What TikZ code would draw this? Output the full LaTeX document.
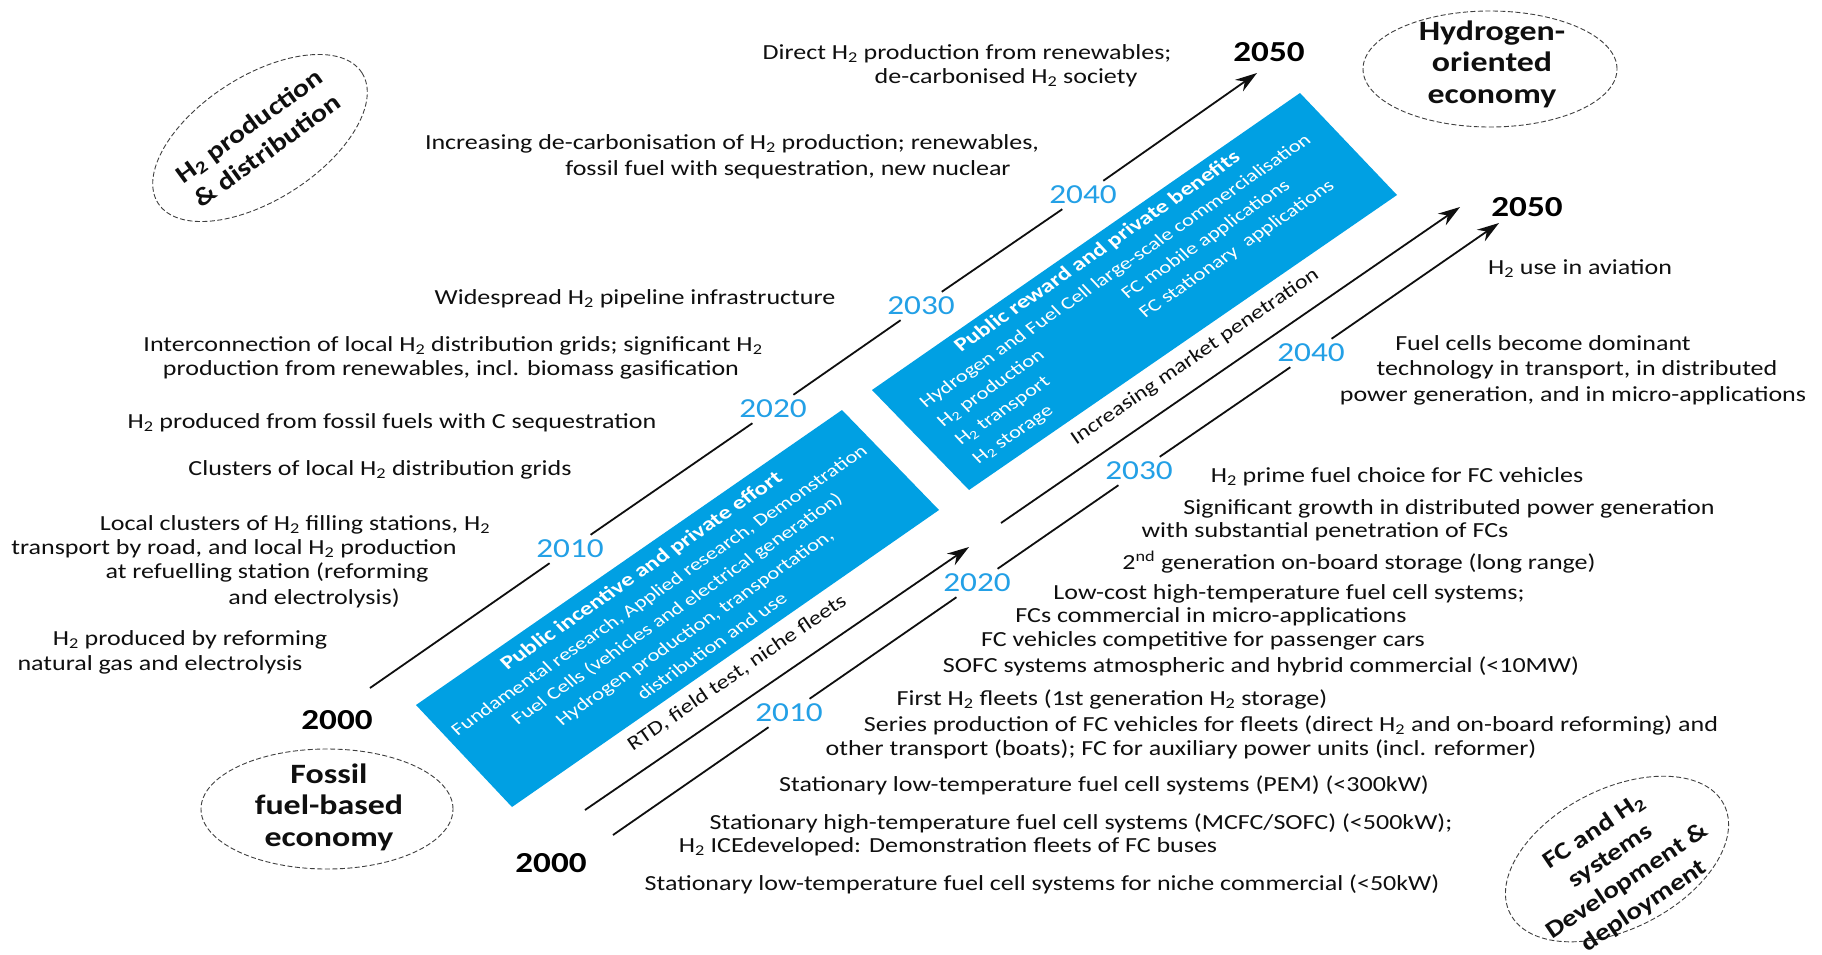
\documentclass[tikz,border=0pt]{standalone}
\usepackage{fontspec}
\setmainfont[FakeStretch=1.21]{Carlito}
\usetikzlibrary{arrows.meta,shapes.geometric}
\definecolor{boxblue}{RGB}{0,160,227}
\definecolor{yearblue}{RGB}{35,160,230}
\definecolor{ink}{RGB}{15,15,15}
\newlength\colA
\newcommand\boxhead[1]{{\bfseries\fontsize{19.8}{25.5}\selectfont #1}}
\begin{document}
\begin{tikzpicture}[x=1pt,y=-1pt,
  txt/.style={font=\fontsize{21.5}{24}\selectfont,text=ink,inner sep=0pt,anchor=mid},
  yr/.style={font=\fontsize{27.5}{30}\selectfont,text=yearblue,inner sep=5pt},
  yrb/.style={font=\bfseries\fontsize{29}{30}\selectfont,text=black,inner sep=0pt},
  arr/.style={draw=ink,line width=1.8pt,-{Stealth[length=22pt,width=14pt]}},
  ellshape/.style={draw=ink!80,ellipse,line width=0.9pt,dash pattern=on 5pt off 2.5pt,inner sep=0pt},
  elltxt/.style={font=\bfseries\fontsize{28}{31.5}\selectfont,align=center,text=ink,inner sep=0pt},
  boxtxt/.style={font=\fontsize{18}{25.5}\selectfont,text=white,align=center,inner sep=0pt,rotate=34.6,xslant=-0.15,transform shape},
  alabel/.style={font=\fontsize{20}{23}\selectfont,text=ink,inner sep=0pt,rotate=34.6}
]
\useasboundingbox[fill=white] (0,0) rectangle (1822,954);

% blue boxes
\fill[boxblue] (416,705) -- (842,410) -- (939,510) -- (512,807) -- cycle;
\fill[boxblue] (872,390) -- (1300,93) -- (1397,195) -- (969,490) -- cycle;

\node[boxtxt] (box1) at (676,608) {\boxhead{Public incentive and private effort}\\
Fundamental research, Applied research, Demonstration\\
Fuel Cells (vehicles and electrical generation)\\
Hydrogen production, transportation,\\
distribution and use};

\node[boxtxt] (box2) at (1133,290) {\settowidth\colA{Hydrogen and Fuel Cell la}%
\begin{tabular}{@{}l@{}l@{}}
\multicolumn{2}{@{}c@{}}{\boxhead{Public reward and private benefits}}\\
\multicolumn{2}{@{}l@{}}{Hydrogen and Fuel Cell large-scale commercialisation}\\
\makebox[\colA][l]{H\textsubscript{2} production} & FC mobile applications\\
\makebox[\colA][l]{H\textsubscript{2} transport} & FC stationary\ \ applications\\
\makebox[\colA][l]{H\textsubscript{2} storage} & \\
\end{tabular}};

% ellipses
\node[ellshape,minimum width=242pt,minimum height=124pt,rotate=32.6] (h2ell) at (260,138) {};
\node[elltxt,font=\bfseries\fontsize{25}{31}\selectfont,rotate=36] (h2lab) at (258,138) {H\textsubscript{2} production\\\& distribution};
\node[ellshape,minimum width=254pt,minimum height=116pt] (hoell) at (1490,69) {};
\node[elltxt] (holab) at (1492,64) {Hydrogen-\\oriented\\economy};
\node[ellshape,minimum width=252pt,minimum height=120pt] (ffell) at (327,809) {};
\node[elltxt] (fflab) at (329,807) {Fossil\\fuel-based\\economy};
\node[ellshape,minimum width=240pt,minimum height=140pt,rotate=27] (fcell) at (1617,859) {};
\node[elltxt,font=\bfseries\fontsize{24}{30}\selectfont,rotate=34] (fclab) at (1619,869) {FC and H\textsubscript{2}\\systems\\Development \&\\deployment};

% top arrow (H2 production & distribution)
\coordinate (ta0) at (370,688);
\coordinate (ta1) at (1257,73);
\node[yr] (ty10) at (570,549) {2010};
\node[yr] (ty20) at (773,409) {2020};
\node[yr] (ty30) at (921,306) {2030};
\node[yr] (ty40) at (1083,195) {2040};
\draw[arr] (ta0) -- (ty10) -- (ty20) -- (ty30) -- (ty40) -- (ta1);

% middle arrows
\coordinate (aa0) at (585,810);
\coordinate (aa1) at (969,547);
\draw[arr] (aa0) -- (aa1);
\coordinate (ab0) at (1001,523);
\coordinate (ab1) at (1460,207);
\draw[arr] (ab0) -- (ab1);
\node[alabel] (rtd) at (737,673) {RTD, field test, niche fleets};
\node[alabel] (imp) at (1195,357) {Increasing market penetration};

% lower arrow (FC systems)
\coordinate (ca0) at (613,835);
\coordinate (ca1) at (1499,223);
\node[yr] (cy10) at (789,713) {2010};
\node[yr] (cy20) at (977,583) {2020};
\node[yr] (cy30) at (1139,471) {2030};
\node[yr] (cy40) at (1311,353) {2040};
\draw[arr] (ca0) -- (cy10) -- (cy20) -- (cy30) -- (cy40) -- (ca1);

% black years
\node[yrb] (y2000a) at (337,720) {2000};
\node[yrb] (y2000b) at (551,863) {2000};
\node[yrb] (y2050a) at (1269,52) {2050};
\node[yrb] (y2050b) at (1527,207) {2050};

% H2 production texts
\node[txt] (t1) at (967,57) {Direct H\textsubscript{2} production from renewables;};
\node[txt] (t2) at (1006,81) {de-carbonised H\textsubscript{2} society};
\node[txt] (t3) at (732,147) {Increasing de-carbonisation of H\textsubscript{2} production; renewables,};
\node[txt] (t4) at (788,173) {fossil fuel with sequestration, new nuclear};
\node[txt] (t5) at (635,302) {Widespread H\textsubscript{2} pipeline infrastructure};
\node[txt] (t6) at (453,349) {Interconnection of local H\textsubscript{2} distribution grids; significant H\textsubscript{2}};
\node[txt] (t7) at (451,373) {production from renewables, incl. biomass gasification};
\node[txt] (t8) at (392,426) {H\textsubscript{2} produced from fossil fuels with C sequestration};
\node[txt] (t9) at (380,473) {Clusters of local H\textsubscript{2} distribution grids};
\node[txt] (t10) at (295,528) {Local clusters of H\textsubscript{2} filling stations, H\textsubscript{2}};
\node[txt] (t11) at (234,552) {transport by road, and local H\textsubscript{2} production};
\node[txt] (t12) at (267,576) {at refuelling station (reforming};
\node[txt] (t13) at (314,602) {and electrolysis)};
\node[txt] (t14) at (190,643) {H\textsubscript{2} produced by reforming};
\node[txt] (t15) at (160,668) {natural gas and electrolysis};

% FC texts
\node[txt] (r1) at (1580,272) {H\textsubscript{2} use in aviation};
\node[txt] (r2) at (1543,348) {Fuel cells become dominant};
\node[txt] (r3) at (1577,373) {technology in transport, in distributed};
\node[txt] (r4) at (1573,399) {power generation, and in micro-applications};
\node[txt] (r5) at (1397,480) {H\textsubscript{2} prime fuel choice for FC vehicles};
\node[txt] (r6) at (1449,512) {Significant growth in distributed power generation};
\node[txt] (r7) at (1325,535) {with substantial penetration of FCs};
\node[txt] (r8) at (1359,567) {2\textsuperscript{nd} generation on-board storage (long range)};
\node[txt] (r9) at (1289,597) {Low-cost high-temperature fuel cell systems;};
\node[txt] (r10) at (1211,620) {FCs commercial in micro-applications};
\node[txt] (r11) at (1203,644) {FC vehicles competitive for passenger cars};
\node[txt] (r12) at (1261,670) {SOFC systems atmospheric and hybrid commercial (<10MW)};
\node[txt] (r13) at (1112,703) {First H\textsubscript{2} fleets (1st generation H\textsubscript{2} storage)};
\node[txt] (r14) at (1291,729) {Series production of FC vehicles for fleets (direct H\textsubscript{2} and on-board reforming) and};
\node[txt] (r15) at (1181,753) {other transport (boats); FC for auxiliary power units (incl. reformer)};
\node[txt] (r16) at (1104,789) {Stationary low-temperature fuel cell systems (PEM) (<300kW)};
\node[txt] (r17) at (1081,827) {Stationary high-temperature fuel cell systems (MCFC/SOFC) (<500kW);};
\node[txt] (r18) at (948,850) {H\textsubscript{2} ICEdeveloped: Demonstration fleets of FC buses};
\node[txt] (r19) at (1042,888) {Stationary low-temperature fuel cell systems for niche commercial (<50kW)};
\end{tikzpicture}
\end{document}
